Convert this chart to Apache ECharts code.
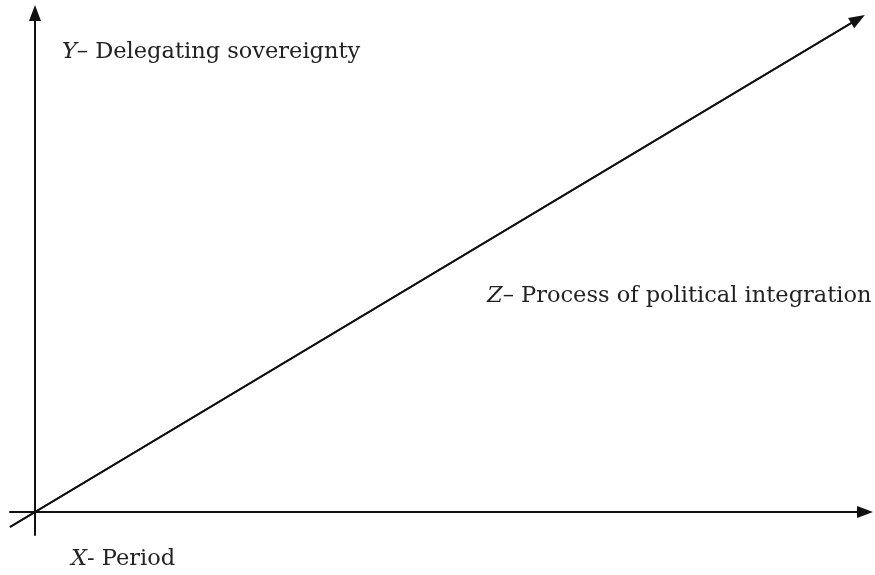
<!DOCTYPE html>
<html>
<head>
<meta charset="utf-8">
<script src="https://cdn.jsdelivr.net/npm/echarts@6/dist/echarts.min.js"></script>
<style>
html,body{margin:0;padding:0;background:#fff;}
#main{width:875px;height:575px;}
</style>
</head>
<body>
<div id="main"></div>
<script>
// axis extents (origin at 0,0; negative values are the part past the crossing)
var xRange = [-25, 830];
var yRange = [-23, 499];
// process line Z: from below-left of origin to arrow head
var zLine = [[-25, -15], [823, 493]];
var labels = {
	y: 'Delegating sovereignty',
	z: 'Process of political integration',
	x: 'Period'
};

window.onload = function(){
	var myChart = echarts.init(document.getElementById('main'));
	var serif = '"DejaVu Serif", "Liberation Serif", serif';
	var rich = {
		i: {fontFamily: serif, fontSize: 22.5, fontStyle: 'italic', fill: '#222'},
		n: {fontFamily: serif, fontSize: 22.5, fill: '#222'}
	};
	myChart.setOption({
		animation: false,
		grid: {left: 10, right: 10, top: 13, bottom: 40},
		xAxis: {
			type: 'value',
			min: xRange[0],
			max: xRange[1],
			axisLine: {
				onZero: true,
				symbol: ['none', 'triangle'],
				symbolSize: [12, 16],
				lineStyle: {color: '#111', width: 2}
			},
			axisTick: {show: false},
			axisLabel: {show: false},
			splitLine: {show: false}
		},
		yAxis: {
			type: 'value',
			min: yRange[0],
			max: yRange[1],
			axisLine: {
				show: true,
				onZero: true,
				symbol: ['none', 'triangle'],
				symbolSize: [12, 16],
				lineStyle: {color: '#111', width: 2}
			},
			axisTick: {show: false},
			axisLabel: {show: false},
			splitLine: {show: false}
		},
		series: [{
			name: 'Z',
			type: 'line',
			data: zLine,
			symbol: 'none',
			clip: false,
			lineStyle: {color: '#111', width: 2},
			markLine: {
				silent: true,
				symbol: ['none', 'triangle'],
				symbolSize: [12, 16],
				label: {show: false},
				lineStyle: {color: '#111', width: 2, type: 'solid'},
				data: [[{coord: zLine[0]}, {coord: zLine[1]}]]
			}
		}],
		graphic: [{
			type: 'text',
			left: 62,
			top: 41,
			style: {text: '{i|Y}{n|– ' + labels.y + '}', rich: rich}
		},{
			type: 'text',
			left: 487,
			top: 285,
			style: {text: '{i|Z}{n|– ' + labels.z + '}', rich: rich}
		},{
			type: 'text',
			left: 71,
			top: 548,
			style: {text: '{i|X}{n|- ' + labels.x + '}', rich: rich}
		}]
	});
};
</script>
</body>
</html>
